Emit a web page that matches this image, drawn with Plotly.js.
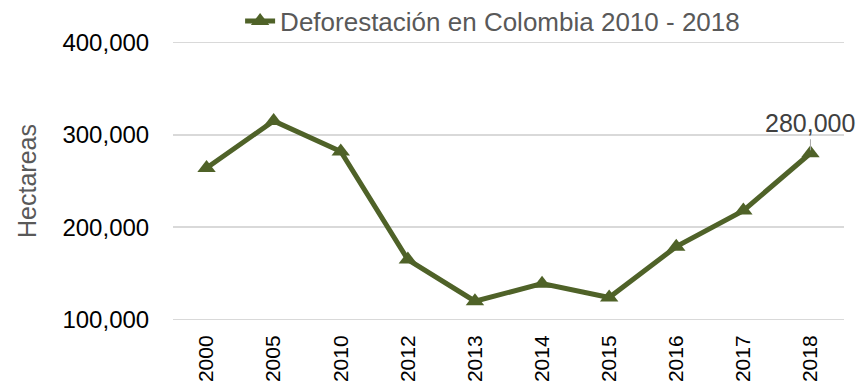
<!DOCTYPE html>
<html>
<head>
<meta charset="utf-8">
<script src="https://cdn.plot.ly/plotly-3.0.1.min.js"></script>
<style>
  html, body { margin: 0; padding: 0; background: #ffffff; }
  #chart { width: 863px; height: 387px; }
</style>
</head>
<body>
<div id="chart"></div>
<script>
// Deforestation in Colombia, hectares per year
const years = ['2000', '2005', '2010', '2012', '2013', '2014', '2015', '2016', '2017', '2018'];
const hectares = [264000, 315000, 282000, 165000, 120000, 139000, 124000, 179000, 218000, 280000];
const seriesName = 'Deforestación en Colombia 2010 - 2018';
const yTicks = [100000, 200000, 300000, 400000];
const yTitle = 'Hectareas';

const green = '#4f6228';
const font = 'Arial, "Liberation Sans", sans-serif';

// one slot per year along the x axis
const slots = years.map((_, i) => i);

const trace = {
  type: 'scatter',
  mode: 'lines+markers',
  name: seriesName,
  x: slots,
  y: hectares,
  line: { color: green, width: 5 },
  marker: { symbol: 'triangle-up', size: 16, color: green },
  cliponaxis: false
};

const last = years.length - 1;

const layout = {
  width: 863,
  height: 387,
  margin: { l: 173, r: 19, t: 40, b: 65, autoexpand: false },
  paper_bgcolor: '#ffffff',
  plot_bgcolor: '#ffffff',
  font: { family: font },
  showlegend: true,
  legend: {
    orientation: 'h',
    x: 0.1, xanchor: 'left',
    y: 1.067, yanchor: 'middle',
    font: { size: 26, color: '#595959', family: font },
    bgcolor: 'rgba(0,0,0,0)'
  },
  xaxis: {
    range: [-0.5, years.length - 0.5],
    tickmode: 'array',
    tickvals: slots,
    ticktext: years,
    tickangle: -90,
    tickfont: { size: 21, color: '#000000', family: font },
    showgrid: false,
    showline: false,
    zeroline: false,
    ticks: 'outside',
    ticklen: 4,
    tickcolor: 'rgba(0,0,0,0)'
  },
  yaxis: {
    // padded so the 100,000 and 400,000 grid lines sit inside the plot area
    range: [97500, 402500],
    tickmode: 'array',
    tickvals: yTicks,
    tickformat: ',d',
    tickfont: { size: 24, color: '#000000', family: font },
    showgrid: true,
    gridcolor: '#d9d9d9',
    gridwidth: 1.5,
    zeroline: false,
    showline: false,
    ticks: 'outside',
    ticklen: 18,
    tickcolor: 'rgba(0,0,0,0)',
    title: { text: yTitle, font: { size: 25, color: '#595959', family: font }, standoff: 18 }
  },
  annotations: [{
    x: slots[last],
    y: hectares[last],
    xref: 'x', yref: 'y',
    text: hectares[last].toLocaleString('en-US'),
    showarrow: true,
    arrowhead: 0,
    arrowwidth: 1,
    arrowcolor: '#a6a6a6',
    ax: 0,
    ay: -14,
    standoff: 3,
    yanchor: 'bottom',
    font: { size: 25, color: '#404040', family: font }
  }],
  hovermode: false
};

Plotly.newPlot('chart', [trace], layout, { displayModeBar: false, staticPlot: true });
</script>
</body>
</html>
